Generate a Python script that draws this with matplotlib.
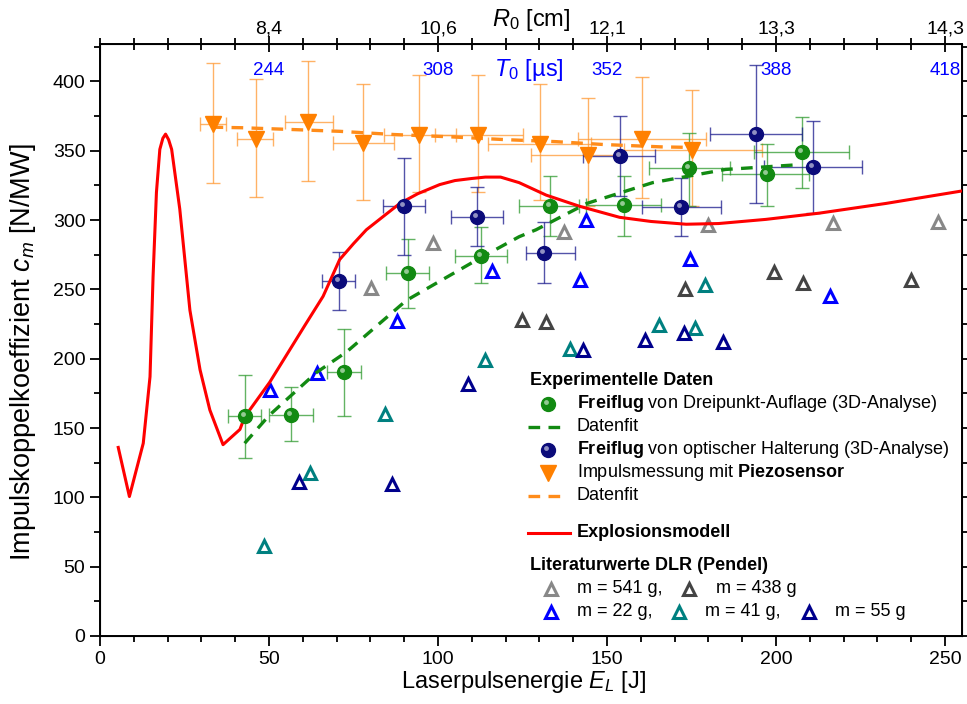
import matplotlib
matplotlib.use("Agg")
import matplotlib.pyplot as plt
import matplotlib.transforms as mtransforms
from matplotlib.ticker import MultipleLocator, FixedLocator

plt.rcParams['font.family'] = ['Liberation Sans', 'DejaVu Sans']
plt.rcParams['mathtext.fontset'] = 'custom'
plt.rcParams['mathtext.rm'] = 'Liberation Sans'
plt.rcParams['mathtext.it'] = 'Liberation Sans:italic'
plt.rcParams['mathtext.bf'] = 'Liberation Sans:bold'

# ---- data ----
# Explosionsmodell
model_E = [5.4, 8.7, 12.8, 14.8, 15.7, 16.7, 17.7, 18.6, 19.4, 20.3, 21.2, 23.6, 26.6, 29.6,
           32.5, 36.4, 41.4, 42.8, 50.2, 60.6, 66.0, 70.9, 75.0, 78.8, 84.0, 88.7, 94.0,
           100.5, 105.0, 110.0, 114.0, 118.5, 124.0, 132.0, 141.8, 153.7, 163.0, 173.4,
           183.0, 197.0, 212.8, 232.5, 255.0]
model_cm = [136, 100.6, 139, 187, 259, 320, 351, 359, 362, 358, 351, 308, 235, 192,
            163, 138, 149, 158, 183, 224, 245, 271.5, 283, 293, 303, 312, 319,
            325.6, 328.5, 330, 331, 331, 327, 318, 310, 302, 299, 297,
            297.5, 300.5, 305, 312, 321]

# Freiflug von Dreipunkt-Auflage
green_E = [42.8, 56.4, 72.2, 91.1, 112.6, 133.0, 155.1, 174.3, 197.2, 207.6]
green_cm = [158.4, 159.6, 190.3, 261.9, 274.4, 310.0, 310.9, 337.2, 332.9, 349.2]
green_ylo = [128.3, 140.5, 158.4, 236.6, 254.4, 288.7, 288.7, 310.0, 310.5, 323.2]
green_yhi = [188.4, 179.6, 221.4, 286.6, 295.1, 331.8, 331.8, 363.0, 355.2, 374.6]
green_xlo = [37.9, 50.0, 67.3, 84.7, 105.1, 124.1, 143.8, 162.3, 184.0, 193.6]
green_xhi = [47.7, 63.0, 77.1, 97.3, 120.3, 141.8, 166.0, 186.3, 209.8, 221.6]
green_fit_E = [42.8, 50.0, 64.0, 73.0, 90.6, 112.0, 124.0, 129.0, 144.0, 163.5, 185.0, 207.0]
green_fit_cm = [139, 159, 190, 205, 242, 272, 288, 293, 312, 327, 336.5, 340]

# Freiflug von optischer Halterung
navy_E = [70.7, 89.9, 111.4, 131.4, 153.7, 172.0, 194.0, 210.8]
navy_cm = [256.3, 310.0, 302.0, 276.3, 346.4, 309.5, 362.3, 338.5]
navy_ylo = [235.4, 275.0, 281.3, 254.5, 317.5, 288.6, 312.4, 305.4]
navy_yhi = [277.0, 344.5, 323.5, 298.8, 375.3, 330.5, 412.0, 371.7]
navy_xlo = [65.8, 83.7, 103.9, 126.0, 142.8, 160.3, 180.4, 196.5]
navy_xhi = [75.3, 96.2, 119.2, 140.4, 164.3, 183.7, 207.6, 225.5]

# Impulsmessung mit Piezosensor
piezo_E = [33.5, 46.1, 61.6, 77.8, 94.4, 111.8, 130.2, 144.3, 160.3, 175.1]
piezo_cm = [369.0, 358.6, 371.0, 355.7, 361.7, 361.7, 355.0, 346.6, 358.5, 350.9]
piezo_ylo = [327.0, 316.8, 328.0, 314.8, 320.0, 320.0, 314.8, 310.0, 316.0, 310.0]
piezo_yhi = [413.6, 402.0, 415.0, 398.3, 405.0, 405.0, 398.5, 388.2, 403.4, 393.8]
piezo_xlo = [29.6, 40.4, 54.7, 68.9, 83.9, 99.0, 114.7, 127.5, 141.3, 155.0]
piezo_xhi = [37.2, 51.2, 68.9, 86.9, 105.4, 125.0, 145.3, 152.8, 179.3, 195.7]
piezo_fit_E = [33.0, 42.0, 57.0, 71.0, 87.0, 104.0, 120.0, 134.6, 149.0, 166.0, 177.0]
piezo_fit_cm = [367, 366.6, 365.3, 364, 361.7, 360, 358, 356.6, 354.5, 352.8, 352.3]

# Literaturwerte DLR (Pendel)
m541_E = [80.1, 98.5, 137.4, 180.0, 216.9, 248.0]
m541_cm = [251.3, 283.5, 291.2, 296.8, 298.0, 298.7]
m438_E = [124.9, 132.0, 173.0, 199.5, 208.1, 239.8]
m438_cm = [228.2, 226.5, 250.5, 262.8, 254.5, 257.0]
m22_E = [50.2, 64.3, 87.9, 116.0, 143.8, 142.1, 174.5, 215.9]
m22_cm = [177.1, 189.7, 227.1, 263.2, 300.4, 257.0, 272.0, 245.5]
m41_E = [48.5, 62.0, 84.2, 113.8, 139.1, 165.3, 176.0, 179.0]
m41_cm = [65.0, 117.5, 160.0, 199.3, 207.0, 224.5, 222.3, 253.0]
m55_E = [58.9, 86.5, 108.8, 142.8, 161.3, 172.9, 184.4]
m55_cm = [111.4, 109.7, 182.0, 206.0, 213.2, 218.2, 212.3]

# secondary scales
top_ticks = [50, 100, 150, 200, 250]
R0_labels = ['8,4', '10,6', '12,1', '13,3', '14,3']
T0_labels = ['244', '308', '352', '388', '418']

GREEN = '#128a12'
NAVY = '#0b0b7a'
ORANGE = '#ff8000'

fig = plt.figure(figsize=(9.67, 7.04), dpi=100)
ax = fig.add_axes([0.1034, 0.0966, 0.8914, 0.8409])


def sphere(x, y, color, ms=10, z=7, transform=None):
    base = transform if transform is not None else ax.transData
    ax.plot(x, y, 'o', ms=ms, color=color, mec=color, zorder=z, ls='none',
            transform=base, clip_on=False)
    hl = base + mtransforms.ScaledTranslation(-2 / 100, 2 / 100, fig.dpi_scale_trans)
    ax.plot(x, y, 'o', ms=ms * 0.35, color='white', alpha=0.55, mec='none',
            zorder=z + 0.1, ls='none', transform=hl, clip_on=False)


def err(x, y, xlo, xhi, ylo, yhi, color):
    xe = [[a - b for a, b in zip(x, xlo)], [b - a for a, b in zip(x, xhi)]]
    ye = [[a - b for a, b in zip(y, ylo)], [b - a for a, b in zip(y, yhi)]]
    ax.errorbar(x, y, xerr=xe, yerr=ye, fmt='none', ecolor=color, elinewidth=1,
                capsize=5, capthick=1, alpha=0.75, zorder=3)


tri_kw = dict(marker='^', ms=9, mfc='white', mew=2.2, ls='none', zorder=2)
ax.plot(m541_E, m541_cm, mec='#888888', **tri_kw)
ax.plot(m438_E, m438_cm, mec='#444444', **tri_kw)
ax.plot(m22_E, m22_cm, mec='#0000ff', **tri_kw)
ax.plot(m41_E, m41_cm, mec='#008080', **tri_kw)
ax.plot(m55_E, m55_cm, mec='#00008c', **tri_kw)

err(piezo_E, piezo_cm, piezo_xlo, piezo_xhi, piezo_ylo, piezo_yhi, '#ff9933')
err(green_E, green_cm, green_xlo, green_xhi, green_ylo, green_yhi, '#2f9a2f')
err(navy_E, navy_cm, navy_xlo, navy_xhi, navy_ylo, navy_yhi, '#1a1a8c')

ax.plot(model_E, model_cm, color='#ff0000', lw=2.2, zorder=4)
ax.plot(green_fit_E, green_fit_cm, color='#128a12', lw=2.4, ls=(0, (3.5, 2.5)), zorder=5)
ax.plot(piezo_fit_E, piezo_fit_cm, color='#ff8c1a', lw=2.4, ls=(0, (3.5, 2.5)), zorder=5)

ax.plot(piezo_E, piezo_cm, 'v', ms=11, color=ORANGE, mec=ORANGE, ls='none', zorder=7)
sphere(green_E, green_cm, GREEN)
sphere(navy_E, navy_cm, NAVY)

ax.set_xlim(0, 255)
ax.set_ylim(0, 427)
ax.xaxis.set_major_locator(MultipleLocator(50))
ax.xaxis.set_minor_locator(MultipleLocator(10))
ax.yaxis.set_major_locator(MultipleLocator(50))
ax.yaxis.set_minor_locator(MultipleLocator(25))
ax.tick_params(which='both', direction='out', labelsize=14, width=1.3, right=True)
ax.tick_params(which='major', length=7)
ax.tick_params(which='minor', length=4)
for s in ax.spines.values():
    s.set_linewidth(1.4)

ax.set_xlabel(r'Laserpulsenergie $E_L$ [J]', fontsize=17, labelpad=3)
ax.xaxis.set_label_coords(0.491, -0.055)
ax.set_ylabel(r'Impulskoppelkoeffizient $c_m$ [N/MW]', fontsize=19.5, labelpad=2)
ax.yaxis.set_label_coords(-0.072, 0.48)

# top axis: R_0
top = ax.twiny()
top.set_xlim(ax.get_xlim())
top.xaxis.set_major_locator(FixedLocator(top_ticks))
top.xaxis.set_minor_locator(MultipleLocator(10))
top.set_xticklabels(R0_labels)
top.tick_params(which='both', direction='inout', labelsize=14, width=1.3, pad=-1)
top.tick_params(which='major', length=12)
top.tick_params(which='minor', length=8)
top.set_xlabel(r'$R_\mathit{0}$ [cm]', fontsize=17)
top.xaxis.set_label_coords(0.5, 1.031)

# T_0 labels just under the top spine
btr = mtransforms.blended_transform_factory(ax.transData, ax.transAxes)
for e, lab in zip(top_ticks, T0_labels):
    ax.text(e, 0.956, lab, color='#0000ff', fontsize=13.5, ha='center', va='center',
            transform=btr, zorder=8)
ax.text(127, 0.956, r'$T_\mathit{0}$ [µs]', color='#0000ff', fontsize=17,
        ha='center', va='center', transform=btr, zorder=8)

# legend drawn by hand
def ax_xy(px, py):
    return (px - 100) / 862, (636 - py) / 592

T = ax.transAxes
fs = 13
x, y = ax_xy(530, 381)
ax.text(x, y, 'Experimentelle Daten', fontsize=fs, fontweight='bold', va='center', transform=T)
tx = ax_xy(577, 0)[0]
mx = ax_xy(548, 0)[0]
l0, l1 = ax_xy(528, 0)[0], ax_xy(566, 0)[0]

y = ax_xy(0, 404)[1]
sphere([mx], [y], GREEN, transform=T)
ax.text(tx, y, r'$\bf{Freiflug}$ von Dreipunkt-Auflage (3D-Analyse)', fontsize=fs, va='center', transform=T)
y = ax_xy(0, 427)[1]
ax.plot([l0, l1], [y, y], color='#128a12', lw=2.4, ls=(0, (3.5, 2.5)), transform=T)
ax.text(tx, y, 'Datenfit', fontsize=fs, va='center', transform=T)
y = ax_xy(0, 450)[1]
sphere([mx], [y], NAVY, transform=T)
ax.text(tx, y, r'$\bf{Freiflug}$ von optischer Halterung (3D-Analyse)', fontsize=fs, va='center', transform=T)
y = ax_xy(0, 473)[1]
ax.plot([mx], [y], 'v', ms=11, color=ORANGE, transform=T)
ax.text(tx, y, r'Impulsmessung mit $\bf{Piezosensor}$', fontsize=fs, va='center', transform=T)
y = ax_xy(0, 496)[1]
ax.plot([l0, l1], [y, y], color='#ff8c1a', lw=2.4, ls=(0, (3.5, 2.5)), transform=T)
ax.text(tx, y, 'Datenfit', fontsize=fs, va='center', transform=T)
y = ax_xy(0, 533)[1]
ax.plot([l0, ax_xy(570, 0)[0]], [y, y], color='#ff0000', lw=2.2, transform=T)
ax.text(tx, y, 'Explosionsmodell', fontsize=fs, fontweight='bold', va='center', transform=T)
x, y = ax_xy(530, 566)
ax.text(x, y, 'Literaturwerte DLR (Pendel)', fontsize=fs, fontweight='bold', va='center', transform=T)

rows = [(589, [(551, 577, '#888888', 'm = 541 g,'), (689, 716, '#444444', 'm = 438 g')]),
        (612, [(551, 577, '#0000ff', 'm = 22 g,'), (679, 705, '#008080', 'm = 41 g,'),
               (809, 835, '#00008c', 'm = 55 g')])]
for py, items in rows:
    y = ax_xy(0, py)[1]
    for mpx, tpx, c, lab in items:
        ax.plot([ax_xy(mpx, 0)[0]], [y], marker='^', ms=9, mfc='white', mew=2.2, mec=c, transform=T)
        ax.text(ax_xy(tpx, 0)[0], y, lab, fontsize=fs, va='center', transform=T)

fig.savefig('out.png', dpi=100)
